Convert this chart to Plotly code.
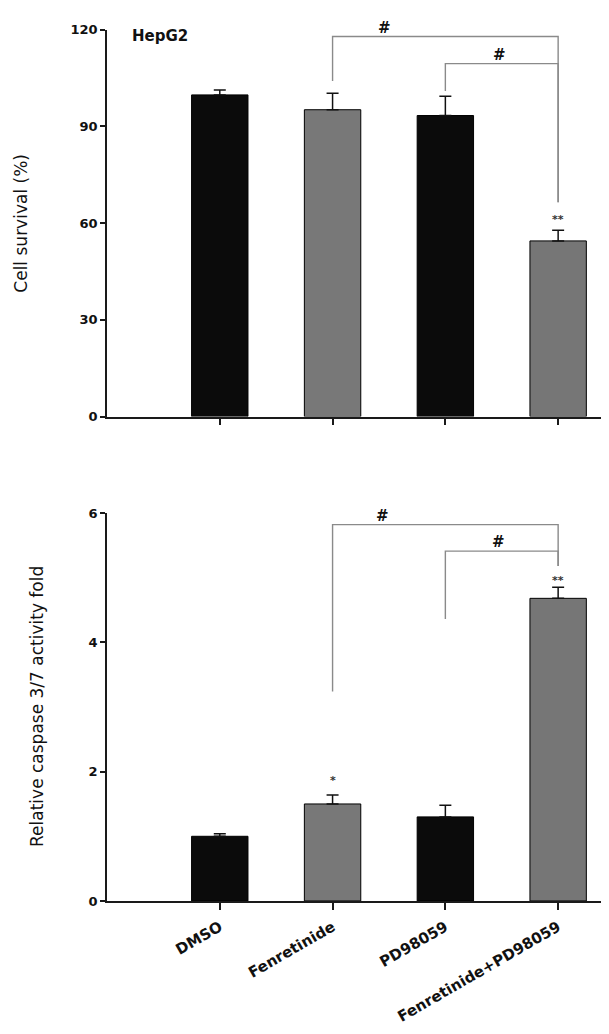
import plotly.graph_objects as go

# ---------------- data ----------------
categories = ["DMSO", "Fenretinide", "PD98059", "Fenretinide+PD98059"]
bar_colors = ["#0b0b0b", "#787878", "#0b0b0b", "#767676"]

survival = [99.8, 95.2, 93.4, 54.5]
survival_err = [1.5, 5.1, 6.0, 3.3]

caspase = [1.0, 1.50, 1.30, 4.68]
caspase_err = [0.04, 0.14, 0.18, 0.17]

# significance marks: (category index, y value, text)
survival_stars = [(3, 61.0, "**")]
caspase_stars = [(1, 1.86, "*"), (3, 4.96, "**")]

# brackets: (left idx, right idx, top y, left leg bottom, right leg bottom, label x)
survival_brackets = [(1, 3, 117.9, 104.1, 66.5, 1.46),
                     (2, 3, 109.5, 101.0, 66.5, 2.48)]
caspase_brackets = [(1, 3, 5.82, 3.24, 5.18, 1.44),
                    (2, 3, 5.41, 4.36, 5.18, 2.47)]

W, H = 609, 1034
OFF = 8  # page body margin in the browser
FONT = "DejaVu Sans"
AX = "#1a1a1a"


def px_x(p):
    return (p - OFF) / W


def px_y(p):
    return 1 - (p - OFF) / H


fig = go.Figure()


def add_panel(vals, errs, xa, ya, stars, brackets):
    xs = list(range(len(categories)))
    fig.add_trace(go.Bar(
        x=xs, y=vals, width=0.5,
        marker=dict(color=bar_colors, line=dict(color="#000000", width=1)),
        error_y=dict(type="data", array=errs, arrayminus=[0] * len(errs),
                     symmetric=False, color="#111111", thickness=1.5, width=6),
        xaxis=xa, yaxis=ya, showlegend=False, hoverinfo="skip"))
    for (l, r, top, lb, rb, lx) in brackets:
        fig.add_trace(go.Scatter(
            x=[l, l, r, r], y=[lb, top, top, rb], mode="lines",
            line=dict(color="#8a8a8a", width=1.4), xaxis=xa, yaxis=ya,
            showlegend=False, hoverinfo="skip", cliponaxis=False))
        fig.add_annotation(x=lx, y=top, xref=xa, yref=ya, text="#",
                           showarrow=False, yanchor="bottom", yshift=-2,
                           font=dict(family=FONT, size=15, color="#111", weight="bold"))
    for (i, y, t) in stars:
        fig.add_annotation(x=i, y=y, xref=xa, yref=ya, text=t, showarrow=False,
                           yanchor="middle",
                           font=dict(family=FONT, size=11, color="#333", weight="bold"))


add_panel(survival, survival_err, "x", "y", survival_stars, survival_brackets)
add_panel(caspase, caspase_err, "x2", "y2", caspase_stars, caspase_brackets)

xdom = [px_x(107), px_x(601)]
top_dom = [px_y(415.5), px_y(23)]
bot_dom = [px_y(907), px_y(513.3)]

axis_common = dict(showline=True, linecolor=AX, linewidth=1.5, ticks="outside",
                   tickcolor=AX, tickwidth=1.5, showgrid=False, zeroline=False,
                   tickfont=dict(family=FONT, size=13, color="#111", weight="bold"))

fig.update_layout(
    width=W, height=H, margin=dict(l=0, r=0, t=0, b=0),
    paper_bgcolor="white", plot_bgcolor="white",
    xaxis=dict(domain=xdom, range=[-1.0, 3.38], tickvals=[0, 1, 2, 3],
               showticklabels=False, ticklen=7, anchor="y", **axis_common),
    yaxis=dict(domain=top_dom, range=[0, 120], tickvals=[0, 30, 60, 90, 120],
               ticklen=5, anchor="x", **axis_common),
    xaxis2=dict(domain=xdom, range=[-1.0, 3.38], tickvals=[0, 1, 2, 3],
                ticktext=categories, tickangle=-30, ticklen=7, anchor="y2",
                ticklabelstandoff=3,
                **{**axis_common, "tickfont": dict(family=FONT, size=15, color="#111", weight="bold")}),
    yaxis2=dict(domain=bot_dom, range=[0, 6], tickvals=[0, 2, 4, 6],
                ticklen=5, anchor="x2", **axis_common),
)

# panel label and y-axis titles
fig.add_annotation(x=px_x(130), y=px_y(29), xref="paper", yref="paper", text="HepG2",
                   showarrow=False, xanchor="left", yanchor="middle",
                   font=dict(family=FONT, size=15, color="#111", weight="bold"))
fig.add_annotation(x=px_x(21.5), y=(top_dom[0] + top_dom[1]) / 2, xref="paper", yref="paper",
                   text="Cell survival (%)", textangle=-90, showarrow=False,
                   xanchor="center", yanchor="middle",
                   font=dict(family=FONT, size=17, color="#111"))
fig.add_annotation(x=px_x(37), y=(bot_dom[0] + bot_dom[1]) / 2, xref="paper", yref="paper",
                   text="Relative caspase 3/7 activity fold", textangle=-90, showarrow=False,
                   xanchor="center", yanchor="middle",
                   font=dict(family=FONT, size=17, color="#111"))

fig.write_html("out.html")
